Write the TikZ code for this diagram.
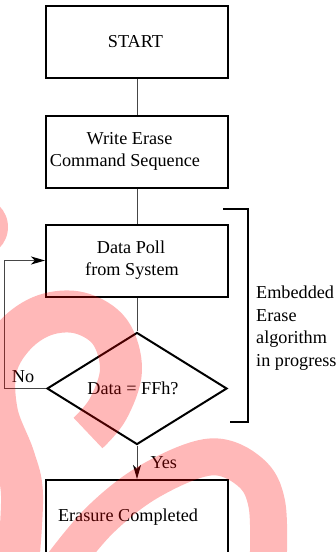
\documentclass[tikz,border=0pt]{standalone}
\usepackage{fontspec}
\setmainfont{Liberation Serif}
\usetikzlibrary{shapes.geometric,arrows.meta}
\newcommand\tshift[1]{\hspace*{#1}}
\begin{document}
\begin{tikzpicture}[x=1pt,y=-1pt,
  box/.style={draw=black,line width=2pt,minimum width=182pt,minimum height=72pt,inner sep=0pt,align=center,font=\fontsize{18.2}{22}\selectfont},
  dec/.style={draw=black,line width=2pt,shape=diamond,minimum width=180pt,minimum height=107pt,inner sep=0pt,font=\fontsize{18.2}{22}\selectfont},
  link/.style={draw={rgb,255:red,70;green,70;blue,70},line width=1pt},
  tip/.style={-{Stealth[length=14pt,width=8pt,inset=4pt,black]}},
  lbl/.style={font=\fontsize{18.2}{22.5}\selectfont,inner sep=0pt},
  wm/.style={draw=red,line cap=butt,line join=round}
]
\useasboundingbox (0,0) rectangle (336,552);
\node[box] (start) at (137,42) {START\tshift{3pt}};
\node[box] (write) at (137,151.5) {Write Erase\tshift{15pt}\\Command Sequence\tshift{24pt}};
\node[box] (poll) at (137,260.5) {Data Poll\tshift{12pt}\\from System\tshift{10pt}};
\node[dec] (dia) at (137,388.5) {Data = FFh?\tshift{8pt}};
\node[box,minimum height=74pt] (done) at (137,517) {Erasure Completed\tshift{18pt}};
\draw[link] (start) -- (write);
\draw[link] (write) -- (poll);
\draw[link] (poll) -- (dia);
\draw[link,tip] (dia.south) -- (done.north) node[lbl,midway,anchor=west,xshift=13pt] (yes) {Yes};
\draw[link,tip] (dia.west) -- ++(-41.5,0) coordinate (nc) |- (poll.west);
\node[lbl] (no) at (23,377) {No};
\draw[line width=2pt] (223,209) -- (248,209) -- (248,422) -- (230,422);
\node[lbl,align=left,anchor=north west] (emb) at (256,286) {Embedded\\Erase\\algorithm\\in progress};
\begin{scope}[transparency group,opacity=0.28]
  \fill[red] (-22,227) circle[radius=30];
  \draw[wm,line width=42pt] plot[smooth,tension=0.6] coordinates {(88,433) (108,409) (121,370) (110,332) (80,313) (45,315) (15,335) (-4,368) (-3,413) (14,458) (22,495) (18,565)};
  \draw[wm,line width=37pt] plot[smooth,tension=0.6] coordinates {(60,568) (100,520) (150,481) (210,457) (250,472) (267,505) (268,568)};
\end{scope}
\end{tikzpicture}
\end{document}
